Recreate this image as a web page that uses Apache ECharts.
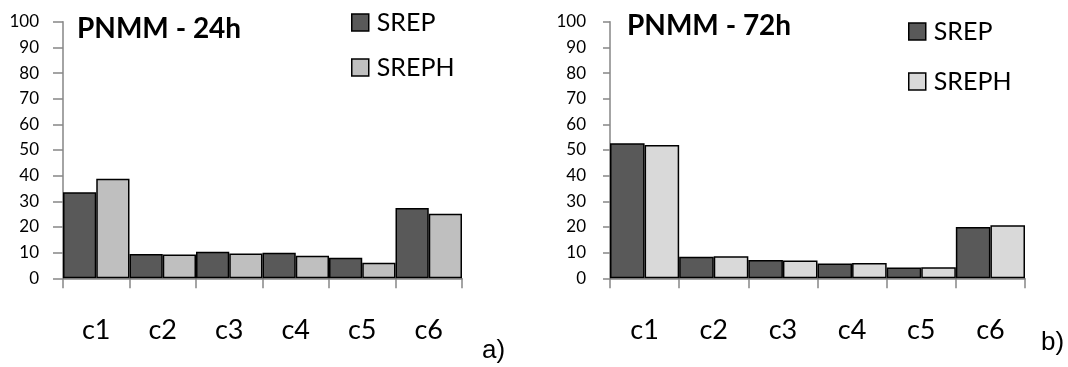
<!DOCTYPE html>
<html>
<head>
<meta charset="utf-8">
<script src="https://cdn.jsdelivr.net/npm/echarts@6/dist/echarts.min.js"></script>
<style>
html,body{margin:0;padding:0;background:#fff;}
#chart{width:1068px;height:367px;}
</style>
</head>
<body>
<div id="chart"></div>
<script>
// ---- data ----
const categories = ['c1', 'c2', 'c3', 'c4', 'c5', 'c6'];
const seriesNames = ['SREP', 'SREPH'];
const srep24 = [33.5, 9.5, 10.3, 10.0, 8.0, 27.4];
const sreph24 = [38.8, 9.3, 9.7, 8.8, 6.1, 25.2];
const srep72 = [52.6, 8.4, 7.1, 5.8, 4.2, 20.0];
const sreph72 = [51.9, 8.6, 6.9, 6.0, 4.3, 20.7];
const titles = ['PNMM - 24h', 'PNMM - 72h'];
const panelLabels = ['a)', 'b)'];
const yMin = 0, yMax = 100, yStep = 10;

// ---- style ----
const FONT = 'Lato';
const AXIS_GREY = '#868686';
const DARK = '#595959';
const LIGHT_A = '#bfbfbf';
const LIGHT_B = '#d9d9d9';

const chart = echarts.init(document.getElementById('chart'), null, {renderer: 'canvas'});

function xAxisCfg(gridIndex) {
  return {
    type: 'category', gridIndex, data: categories,
    axisLine: {lineStyle: {color: AXIS_GREY, width: 1.5}},
    axisTick: {show: true, length: 10, lineStyle: {color: AXIS_GREY, width: 1.5}},
    axisLabel: {fontFamily: FONT, fontSize: 27, color: '#000', margin: 38, lineHeight: 27}
  };
}
function yAxisCfg(gridIndex, tickLen) {
  return {
    type: 'value', gridIndex, min: yMin, max: yMax, interval: yStep,
    splitLine: {show: false},
    axisLine: {show: true, lineStyle: {color: AXIS_GREY, width: 1.5}},
    axisTick: {show: true, length: tickLen, lineStyle: {color: AXIS_GREY, width: 1.5}},
    axisLabel: {fontFamily: FONT, fontSize: 17, color: '#000', margin: 24}
  };
}
function barSeries(name, data, idx, color) {
  return {
    type: 'bar', name, data, xAxisIndex: idx, yAxisIndex: idx,
    barGap: '0%', barCategoryGap: '0%',
    itemStyle: {color, borderColor: '#000', borderWidth: 1.5},
    emphasis: {disabled: true}
  };
}
function legendCfg(left, top, gap, lightColor) {
  return {
    orient: 'vertical', left, top, itemGap: gap,
    icon: 'rect', itemWidth: 17, itemHeight: 17,
    selectedMode: false,
    textStyle: {fontFamily: FONT, fontSize: 25, color: '#000', padding: [0, 0, 0, 3]},
    data: [
      {name: seriesNames[0], itemStyle: {color: DARK, borderColor: '#000', borderWidth: 1.5}},
      {name: seriesNames[1], itemStyle: {color: lightColor, borderColor: '#000', borderWidth: 1.5}}
    ]
  };
}

const option = {
  animation: false,
  backgroundColor: '#fff',
  grid: [
    {left: 63, top: 21.7, width: 399, height: 256.6},
    {left: 610, top: 21.7, width: 415, height: 256.6}
  ],
  xAxis: [xAxisCfg(0), xAxisCfg(1)],
  yAxis: [yAxisCfg(0, 10), yAxisCfg(1, 7)],
  title: [
    {text: titles[0], left: 72, top: 10, textStyle: {fontFamily: FONT, fontSize: 28, fontWeight: 'bold', color: '#000'}},
    {text: titles[1], left: 622, top: 7, textStyle: {fontFamily: FONT, fontSize: 28, fontWeight: 'bold', color: '#000'}},
    {text: panelLabels[0], left: 477, top: 333, textStyle: {fontFamily: 'Liberation Sans', fontSize: 26, fontWeight: 'normal', color: '#000'}},
    {text: panelLabels[1], left: 1036, top: 325, textStyle: {fontFamily: 'Liberation Sans', fontSize: 26, fontWeight: 'normal', color: '#000'}}
  ],
  legend: [
    legendCfg(346, 5, 20, LIGHT_A),
    legendCfg(903, 14, 25, LIGHT_B)
  ],
  series: [
    barSeries(seriesNames[0], srep24, 0, DARK),
    barSeries(seriesNames[1], sreph24, 0, LIGHT_A),
    barSeries(seriesNames[0], srep72, 1, DARK),
    barSeries(seriesNames[1], sreph72, 1, LIGHT_B)
  ]
};
chart.setOption(option);
</script>
</body>
</html>
